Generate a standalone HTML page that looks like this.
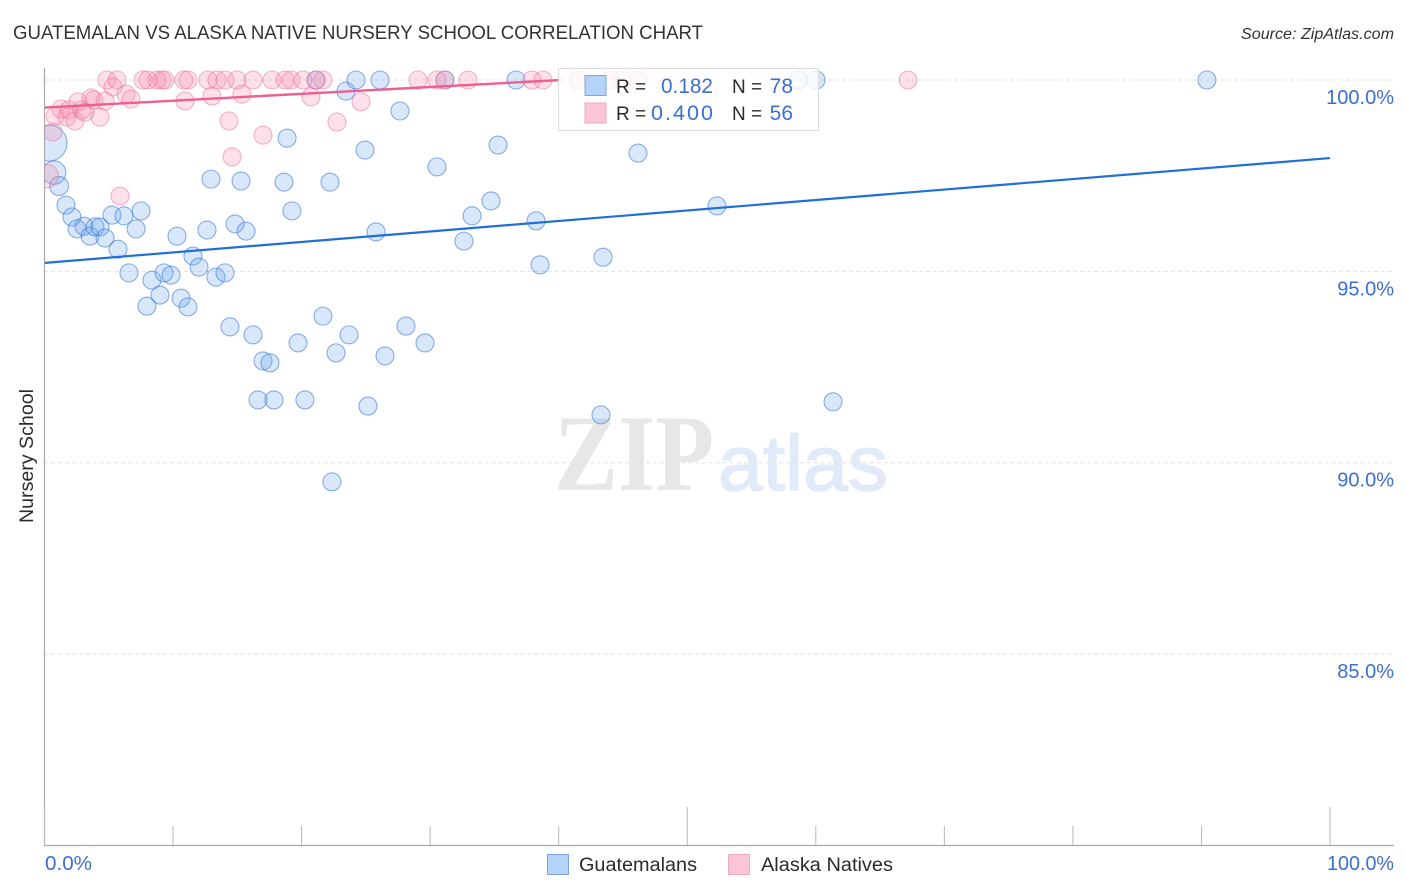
<!DOCTYPE html>
<html lang="en">
<head>
<meta charset="utf-8">
<title>Guatemalan vs Alaska Native Nursery School Correlation Chart</title>
<style>
html,body{margin:0;padding:0;background:#fff;width:1406px;height:892px;overflow:hidden}
svg{display:block}
text{font-family:"Liberation Sans",sans-serif}
</style>
</head>
<body>
<svg id="chart" xmlns="http://www.w3.org/2000/svg" width="1406" height="892" viewBox="0 0 1406 892">
  <defs>
    <clipPath id="plot-clip"><rect x="45" y="60" width="1349" height="786"></rect></clipPath>
  </defs>
  <text x="13" y="39" font-size="19.5" fill="#333333" textLength="690" lengthAdjust="spacingAndGlyphs">GUATEMALAN VS ALASKA NATIVE NURSERY SCHOOL CORRELATION CHART</text>
  <text x="1241" y="39" font-size="15.5" font-style="italic" fill="#333333" textLength="153" lengthAdjust="spacingAndGlyphs">Source: ZipAtlas.com</text>
  <text x="554" y="490" font-size="109" font-weight="bold" fill="#e7e7e7" textLength="160" lengthAdjust="spacingAndGlyphs" style="font-family:'Liberation Serif',serif">ZIP</text>
  <text x="718" y="490" font-size="78" fill="#e1eaf9" stroke="#e1eaf9" stroke-width="1.5" textLength="170" lengthAdjust="spacingAndGlyphs">atlas</text>
  <g id="grid"></g>
  <g id="axes"></g>
  <g clip-path="url(#plot-clip)">
    <g id="blue-points"></g>
    <g id="pink-points"></g>
    <g id="trends"></g>
  </g>
  <g>
    <rect x="558.5" y="68.5" width="260" height="62" fill="#fff" fill-opacity="0.8" stroke="#dcdcdc" stroke-width="1"></rect>
    <rect x="585" y="75.5" width="21" height="20" fill="#b5d2f8" stroke="#7aa6e0" stroke-width="1"></rect>
    <rect x="585" y="103" width="21" height="20" fill="#fcc4d7" stroke="#f2a9c2" stroke-width="1"></rect>
    <text x="616" y="93" font-size="19" fill="#2b2b2b">R =</text>
    <text x="661" y="93" font-size="21.5" fill="#3b6fd4" textLength="52" lengthAdjust="spacingAndGlyphs">0.182</text>
    <text x="732" y="93" font-size="19" fill="#2b2b2b">N =</text>
    <text x="793" y="93" font-size="21" fill="#3b6fd4" text-anchor="end">78</text>
    <text x="616" y="120" font-size="19" fill="#2b2b2b">R =</text>
    <text x="651" y="120" font-size="21.5" fill="#3b6fd4" textLength="62" lengthAdjust="spacing">0.400</text>
    <text x="732" y="120" font-size="19" fill="#2b2b2b">N =</text>
    <text x="793" y="120" font-size="21" fill="#3b6fd4" text-anchor="end">56</text>
  </g>
  <text transform="translate(33,456) rotate(-90)" font-size="19" fill="#2b2b2b" text-anchor="middle" textLength="134" lengthAdjust="spacingAndGlyphs">Nursery School</text>
  <text x="45" y="870" font-size="20" fill="#3b6fd4" textLength="47" lengthAdjust="spacingAndGlyphs">0.0%</text>
  <text x="1327" y="870" font-size="20" fill="#3b6fd4" textLength="67" lengthAdjust="spacingAndGlyphs">100.0%</text>
  <g>
    <rect x="547.5" y="854.5" width="21" height="20" fill="#b5d2f8" stroke="#7aa6e0" stroke-width="1"></rect>
    <text x="579" y="871" font-size="19" fill="#2b2b2b" textLength="118" lengthAdjust="spacingAndGlyphs">Guatemalans</text>
    <rect x="728.5" y="854.5" width="21" height="20" fill="#fcc4d7" stroke="#f2a9c2" stroke-width="1"></rect>
    <text x="761" y="871" font-size="19" fill="#2b2b2b" textLength="132" lengthAdjust="spacingAndGlyphs">Alaska Natives</text>
  </g>
</svg>
<script>
const yTickValues = [100, 95, 90, 85];
const yTickLabels = ['100.0%', '95.0%', '90.0%', '85.0%'];
const xTickValues = [0, 10, 20, 30, 40, 50, 60, 70, 80, 90, 100];
const xMajorTicks = [0, 50, 100];

const blueX = [0.35,0.75,1.13,1.67,2.14,2.53,3.07,3.54,3.93,4.32,4.71,5.25,5.72,6.18,6.57,7.12,7.51,7.97,8.36,8.98,9.3,9.84,10.31,10.62,11.16,11.55,12.02,12.64,12.95,13.34,14.04,14.43,14.82,15.29,15.68,16.22,16.61,17.0,17.54,17.85,18.63,18.87,19.25,19.72,20.26,21.12,21.66,22.21,22.36,22.68,23.45,23.69,24.23,24.93,25.16,25.79,26.1,26.49,27.65,28.12,29.6,30.53,31.15,32.63,33.26,34.73,35.28,36.68,38.24,38.55,43.29,43.45,46.17,52.31,58.62,60.02,61.34,90.43];
const blueY = [98.35,97.58,97.23,96.73,96.42,96.11,96.18,95.92,96.16,96.16,95.87,96.47,95.58,96.45,94.96,96.11,96.58,94.09,94.77,94.38,94.96,94.9,95.92,94.3,94.07,95.4,95.11,96.08,97.41,94.85,94.96,93.55,96.24,97.36,96.05,93.34,91.64,92.66,92.61,91.64,97.33,98.48,96.58,93.13,91.64,100,93.83,97.33,89.5,92.87,99.71,93.34,100,98.17,91.48,96.03,100,92.79,99.19,93.57,93.13,97.73,100,95.79,96.45,96.84,98.3,100,96.32,95.17,91.25,95.37,98.09,96.71,100,100,91.59,100];
const blueWeight = [4.0,1.7,1.1];

const pinkX = [0.66,0.17,0.82,1.28,1.91,1.75,2.37,2.61,2.92,3.15,3.62,3.85,4.32,4.71,4.86,5.64,5.33,5.87,6.34,6.73,7.66,8.05,8.75,9.14,9.37,10.85,11.16,10.93,12.72,13.03,13.42,14.04,14.35,14.59,14.97,15.36,16.22,17.0,17.7,18.71,19.18,20.11,20.73,21.12,21.66,22.75,24.62,29.05,30.53,31.15,32.94,37.92,38.78,41.5,43.99,44.92,46.17,67.17];
const pinkY = [98.64,97.49,99.06,99.24,99.22,99.03,98.93,99.43,99.22,99.16,99.53,99.48,99.03,99.45,100,100,99.82,96.97,99.63,99.5,100,100,100,100,100,100,100,99.45,100,99.58,100,100,98.93,97.99,100,99.63,100,98.56,100,100,100,100,99.56,100,100,98.9,99.43,100,100,100,100,100,100,100,100,100,100,100];
const pinkWeight = [1,1.7];

const blueTrendX = [0, 100];
const blueTrendY = [95.22, 97.96];
const pinkTrendX = [0, 40.2];
const pinkTrendY = [99.28, 100];

const NS = 'http://www.w3.org/2000/svg';
function sx(v) { return 44.5 + v * 12.855; }
function sy(v) { return 80 + (100 - v) * 38.27; }
function make(tag, attrs, parent) {
  const el = document.createElementNS(NS, tag);
  for (const k in attrs) el.setAttribute(k, attrs[k]);
  parent.appendChild(el);
  return el;
}

const grid = document.getElementById('grid');
yTickValues.forEach(function (v, i) {
  const line = make('line', {x1: 44, x2: 1394, y1: sy(v), y2: sy(v), stroke: '#e2e2e2', 'stroke-width': 1, 'stroke-dasharray': '4 3'}, grid);
  
  
  const label = make('text', {x: 1394, y: sy(v) + 24, 'font-size': 20, fill: '#3b6fd4', 'text-anchor': 'end'}, grid);
  label.textContent = yTickLabels[i];
  
  
});

const axes = document.getElementById('axes');
const yAxis = make('line', {x1: 44.5, x2: 44.5, y1: 68, y2: 846, stroke: '#aaaaaa', 'stroke-width': 1.2}, axes);


const xAxis = make('line', {x1: 44, x2: 1394, y1: 845.5, y2: 845.5, stroke: '#aaaaaa', 'stroke-width': 1.2}, axes);


xTickValues.forEach(function (v) {
  const major = xMajorTicks.indexOf(v) >= 0;
  const tick = make('line', {x1: sx(v), x2: sx(v), y1: major ? 807 : 826, y2: 845, stroke: '#b8b8b8', 'stroke-width': 1}, axes);
  
  
});

function drawPoints(group, xs, ys, weights, fill, stroke, name) {
  xs.forEach(function (x, i) {
    const w = weights[i] || 1;
    const c = make('circle', {cx: sx(x), cy: sy(ys[i]), r: 9 * Math.sqrt(w), fill: fill, stroke: stroke, 'stroke-width': 1.1}, group);
    
    
  });
}
drawPoints(document.getElementById('blue-points'), blueX, blueY, blueWeight, 'rgba(110,165,235,0.27)', 'rgba(55,120,215,0.58)', 'guatemalans-point');
drawPoints(document.getElementById('pink-points'), pinkX, pinkY, pinkWeight, 'rgba(248,140,175,0.27)', 'rgba(232,110,155,0.5)', 'alaska-natives-point');

const trends = document.getElementById('trends');
const blueTrend = make('line', {x1: sx(blueTrendX[0]), y1: sy(blueTrendY[0]), x2: sx(blueTrendX[1]), y2: sy(blueTrendY[1]), stroke: '#1f6fd6', 'stroke-width': 2.2}, trends);


const pinkTrend = make('line', {x1: sx(pinkTrendX[0]), y1: sy(pinkTrendY[0]), x2: sx(pinkTrendX[1]), y2: sy(pinkTrendY[1]), stroke: '#ee5f8f', 'stroke-width': 2.4}, trends);


</script>
</body>
</html>
